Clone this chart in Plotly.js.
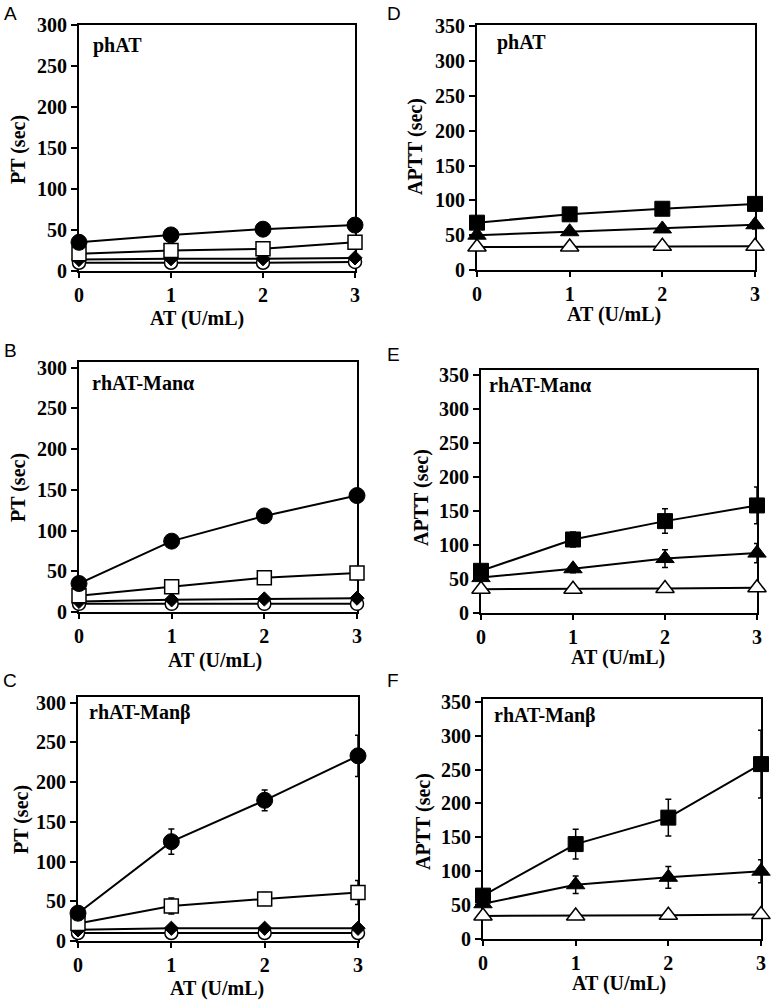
<!DOCTYPE html>
<html>
<head>
<meta charset="utf-8">
<script src="https://cdn.plot.ly/plotly-3.0.1.min.js"></script>
<style>
  html, body { margin: 0; padding: 0; background: #fff; }
  #chart { width: 771px; height: 1000px; }
</style>
</head>
<body>
<div id="chart"></div>
<script>
// ---------- DATA ----------
const doses = [0, 1, 2, 3];                 // AT (U/mL)
const xTickLabels = ['0', '1', '2', '3'];
const ptTicks = [0, 50, 100, 150, 200, 250, 300];
const apttTicks = [0, 50, 100, 150, 200, 250, 300, 350];

const panelLetters = ['A', 'B', 'C', 'D', 'E', 'F'];
const panelNames = ['phAT', 'rhAT-Manα', 'rhAT-Manβ', 'phAT', 'rhAT-Manα', 'rhAT-Manβ'];

// PT (sec) — panels A, B, C
const ptA_filledCircle = [35, 44, 51, 56];
const ptA_openSquare   = [21, 25, 27, 35];
const ptA_diamond      = [14, 15, 15, 16];
const ptA_openCircle   = [10, 10, 10, 11];

const ptB_filledCircle     = [35, 87, 118, 143];
const ptB_filledCircleErr  = [0, 3, 4, 8];
const ptB_openSquare       = [20, 31, 42, 48];
const ptB_openSquareErr    = [0, 2, 3, 8];
const ptB_diamond          = [13, 15, 16, 17];
const ptB_openCircle       = [10, 10, 10, 10];

const ptC_filledCircle     = [35, 125, 177, 233];
const ptC_filledCircleErr  = [0, 16, 13, 26];
const ptC_openSquare       = [22, 44, 53, 61];
const ptC_openSquareErr    = [0, 10, 8, 15];
const ptC_diamond          = [14, 16, 16, 16];
const ptC_openCircle       = [10, 10, 10, 10];

// APTT (sec) — panels D, E, F
const apttD_filledSquare    = [68, 80, 88, 95];
const apttD_filledSquareErr = [0, 3, 5, 6];
const apttD_filledTri       = [50, 55, 59, 65];
const apttD_filledTriErr    = [0, 2, 4, 6];
const apttD_openTri         = [33, 33, 34, 34];

const apttE_filledSquare    = [62, 108, 135, 158];
const apttE_filledSquareErr = [0, 11, 18, 27];
const apttE_filledTri       = [52, 65, 80, 88];
const apttE_filledTriErr    = [0, 6, 13, 14];
const apttE_openTri         = [35, 35, 36, 37];

const apttF_filledSquare    = [64, 140, 179, 258];
const apttF_filledSquareErr = [0, 22, 27, 50];
const apttF_filledTri       = [52, 80, 91, 100];
const apttF_filledTriErr    = [0, 13, 16, 17];
const apttF_openTri         = [34, 34, 35, 36];

// ---------- STYLE / LAYOUT ----------
const W = 771, H = 1000;
const SERIF = 'Liberation Serif, Times New Roman, serif';
const SANS = 'Liberation Sans, Arial, sans-serif';

// plot-area boxes in pixels: [left, right, top, bottom], and y max
const boxes = [
  {l: 79,  r: 355, t: 25,  b: 271, ymax: 300, ticks: ptTicks},   // A
  {l: 79,  r: 357, t: 362, b: 612, ymax: 307, ticks: ptTicks},   // B
  {l: 78,  r: 358, t: 697, b: 941, ymax: 307, ticks: ptTicks},   // C
  {l: 477, r: 755, t: 25,  b: 270, ymax: 352, ticks: apttTicks}, // D
  {l: 481, r: 757, t: 370, b: 613, ymax: 357, ticks: apttTicks}, // E
  {l: 483, r: 761, t: 699, b: 939, ymax: 354, ticks: apttTicks}  // F
];

const styles = {
  filledCircle: {symbol: 'circle', size: 16, color: '#000', line: {color: '#000', width: 1}},
  openSquare:   {symbol: 'square', size: 14, color: '#fff', line: {color: '#000', width: 1.5}},
  diamond:      {symbol: 'diamond', size: 11, color: '#000', line: {color: '#000', width: 1}},
  openCircle:   {symbol: 'circle', size: 13, color: '#fff', line: {color: '#000', width: 1.5}},
  filledSquare: {symbol: 'square', size: 15, color: '#000', line: {color: '#000', width: 1}},
  filledTri:    {symbol: 'triangle-up', size: 16, color: '#000', line: {color: '#000', width: 1}},
  openTri:      {symbol: 'triangle-up', size: 16, color: '#fff', line: {color: '#000', width: 1.5}}
};

function series(idx, y, style, err) {
  const s = idx === 0 ? '' : String(idx + 1);
  const t = {
    type: 'scatter', mode: 'lines+markers',
    x: doses, y: y,
    xaxis: 'x' + s, yaxis: 'y' + s,
    line: {color: '#000', width: 2},
    marker: styles[style],
    cliponaxis: false, showlegend: false, hoverinfo: 'x+y'
  };
  if (err) {
    t.error_y = {type: 'data', array: err, visible: true, color: '#000', thickness: 1.5, width: 3};
  }
  return t;
}

const traces = [
  // A
  series(0, ptA_openCircle, 'openCircle'),
  series(0, ptA_diamond, 'diamond'),
  series(0, ptA_openSquare, 'openSquare'),
  series(0, ptA_filledCircle, 'filledCircle'),
  // B
  series(1, ptB_openCircle, 'openCircle'),
  series(1, ptB_diamond, 'diamond'),
  series(1, ptB_openSquare, 'openSquare', ptB_openSquareErr),
  series(1, ptB_filledCircle, 'filledCircle', ptB_filledCircleErr),
  // C
  series(2, ptC_openCircle, 'openCircle'),
  series(2, ptC_diamond, 'diamond'),
  series(2, ptC_openSquare, 'openSquare', ptC_openSquareErr),
  series(2, ptC_filledCircle, 'filledCircle', ptC_filledCircleErr),
  // D
  series(3, apttD_openTri, 'openTri'),
  series(3, apttD_filledTri, 'filledTri', apttD_filledTriErr),
  series(3, apttD_filledSquare, 'filledSquare', apttD_filledSquareErr),
  // E
  series(4, apttE_openTri, 'openTri'),
  series(4, apttE_filledTri, 'filledTri', apttE_filledTriErr),
  series(4, apttE_filledSquare, 'filledSquare', apttE_filledSquareErr),
  // F
  series(5, apttF_openTri, 'openTri'),
  series(5, apttF_filledTri, 'filledTri', apttF_filledTriErr),
  series(5, apttF_filledSquare, 'filledSquare', apttF_filledSquareErr)
];

const tickFont = {family: SERIF, size: 20, color: '#000', weight: 'bold'};
const layout = {
  width: W, height: H,
  margin: {l: 0, r: 0, t: 0, b: 0},
  paper_bgcolor: '#fff', plot_bgcolor: '#fff',
  showlegend: false,
  annotations: []
};

boxes.forEach((b, i) => {
  const s = i === 0 ? '' : String(i + 1);
  layout['xaxis' + s] = {
    domain: [b.l / W, b.r / W],
    anchor: 'y' + s,
    range: [0, 3],
    tickmode: 'array', tickvals: doses, ticktext: xTickLabels,
    ticks: 'outside', ticklen: 5, tickwidth: 2, tickcolor: '#000',
    showline: true, linecolor: '#000', linewidth: 2, mirror: true,
    showgrid: false, zeroline: false, layer: 'below traces',
    tickfont: tickFont, fixedrange: true
  };
  layout['yaxis' + s] = {
    domain: [1 - b.b / H, 1 - b.t / H],
    anchor: 'x' + s,
    range: [0, b.ymax],
    tickmode: 'array', tickvals: b.ticks,
    ticks: 'outside', ticklen: 6, tickwidth: 2, tickcolor: '#000',
    showline: true, linecolor: '#000', linewidth: 2, mirror: true,
    showgrid: false, zeroline: false, layer: 'below traces',
    tickfont: tickFont, fixedrange: true
  };
});

function ann(text, x, y, opts) {
  layout.annotations.push(Object.assign({
    text: text, xref: 'paper', yref: 'paper',
    x: x / W, y: 1 - y / H, showarrow: false,
    xanchor: 'center', yanchor: 'middle'
  }, opts));
}

// panel letters
const letterPos = [[10, 13], [10, 350], [10, 680], [394, 13], [393, 354], [393, 680]];
panelLetters.forEach((L, i) => ann(L, letterPos[i][0], letterPos[i][1],
  {font: {family: SANS, size: 19, color: '#000'}}));

// panel names inside plots
const namePos = [[91, 45], [90, 383], [87, 712], [495, 42], [487, 385], [492, 715]];
panelNames.forEach((n, i) => ann('<b>' + n + '</b>', namePos[i][0], namePos[i][1],
  {xanchor: 'left', font: {family: SERIF, size: 20, color: '#000'}}));

// axis titles
const titleFont = {family: SERIF, size: 20, color: '#000'};
const yTitles = [['PT (sec)', 18, 150], ['PT (sec)', 18, 488], ['PT (sec)', 21, 820],
                 ['APTT (sec)', 415, 147], ['APTT (sec)', 421, 497], ['APTT (sec)', 423, 822]];
yTitles.forEach(t => ann('<b>' + t[0] + '</b>', t[1], t[2], {textangle: -90, font: titleFont}));
const xTitles = [[197, 318], [215, 660], [217, 988], [614, 314], [618, 657], [619, 983]];
xTitles.forEach(t => ann('<b>AT (U/mL)</b>', t[0], t[1], {font: titleFont}));

Plotly.newPlot('chart', traces, layout, {staticPlot: true, displayModeBar: false});
</script>
</body>
</html>
